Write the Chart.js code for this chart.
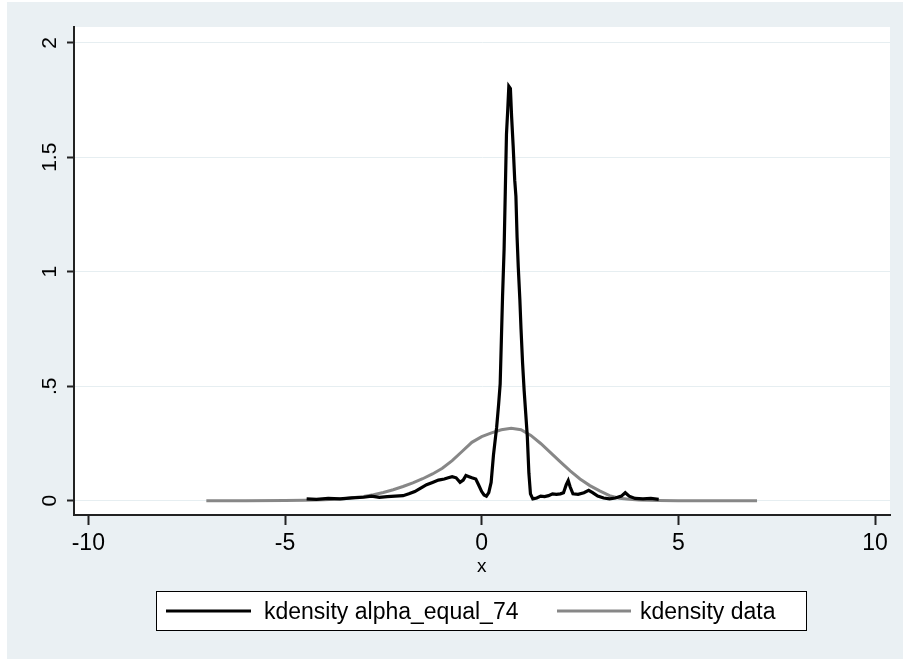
<!DOCTYPE html>
<html>
<head>
<meta charset="utf-8">
<script src="https://cdn.jsdelivr.net/npm/chart.js@4.4.1/dist/chart.umd.min.js"></script>
<style>
html,body{margin:0;padding:0;background:#ffffff;}
canvas{display:block;}
</style>
</head>
<body>
<canvas id="c" width="905" height="662"></canvas>
<script>
// ---- data ----
const seriesLabels = ['kdensity alpha_equal_74', 'kdensity data'];
const xTitle = 'x';
const xTicks = [-10, -5, 0, 5, 10];
const xTickLabels = ['-10', '-5', '0', '5', '10'];
const yTicks = [0, 0.5, 1, 1.5, 2];
const yTickLabels = ['0', '.5', '1', '1.5', '2'];

const alphaX = [-4.45,-4.2,-3.9,-3.6,-3.3,-3.0,-2.8,-2.6,-2.4,-2.2,-2.0,-1.85,-1.7,-1.55,-1.4,-1.25,-1.1,-0.95,-0.85,-0.75,-0.65,-0.55,-0.47,-0.4,-0.32,-0.25,-0.15,-0.08,0.0,0.06,0.12,0.18,0.24,0.3,0.38,0.43,0.47,0.5,0.53,0.57,0.60,0.63,0.66,0.69,0.73,0.76,0.8,0.84,0.87,0.9,0.93,0.97,1.0,1.04,1.08,1.12,1.16,1.2,1.24,1.3,1.4,1.5,1.6,1.7,1.8,1.9,2.0,2.08,2.15,2.2,2.25,2.32,2.45,2.6,2.72,2.82,2.95,3.1,3.25,3.4,3.55,3.65,3.75,3.9,4.1,4.3,4.5];
const alphaY = [0.008,0.006,0.01,0.008,0.012,0.015,0.02,0.015,0.018,0.02,0.022,0.03,0.04,0.055,0.07,0.08,0.09,0.095,0.1,0.105,0.1,0.08,0.09,0.11,0.105,0.1,0.095,0.07,0.04,0.025,0.02,0.035,0.08,0.2,0.32,0.42,0.51,0.7,0.89,1.1,1.35,1.6,1.7,1.81,1.8,1.68,1.55,1.4,1.33,1.15,1.02,0.88,0.75,0.6,0.48,0.38,0.28,0.12,0.03,0.008,0.012,0.02,0.018,0.022,0.03,0.028,0.03,0.035,0.07,0.088,0.06,0.03,0.028,0.035,0.045,0.035,0.02,0.012,0.008,0.012,0.02,0.035,0.02,0.01,0.008,0.01,0.006];

const dataX = [-7,-6,-5,-4.5,-4,-3.5,-3,-2.75,-2.5,-2.25,-2,-1.75,-1.5,-1.25,-1,-0.75,-0.5,-0.25,0,0.25,0.5,0.75,1,1.25,1.5,1.75,2,2.25,2.5,2.75,3,3.25,3.5,3.75,4,4.5,5,6,7];
const dataY = [0,0,0.001,0.002,0.004,0.009,0.018,0.026,0.036,0.048,0.062,0.078,0.096,0.117,0.142,0.175,0.215,0.255,0.28,0.296,0.31,0.316,0.31,0.285,0.25,0.21,0.17,0.13,0.095,0.066,0.043,0.022,0.011,0.006,0.003,0.001,0,0,0];

const FONT = "'Liberation Sans', Arial, sans-serif";

const toPts = (xs, ys) => xs.map((x, i) => ({x: x, y: ys[i]}));

const bgPlugin = {
  id: 'bg',
  beforeDraw(chart) {
    const ctx = chart.ctx, a = chart.chartArea;
    ctx.save();
    ctx.fillStyle = '#ffffff';
    ctx.fillRect(0, 0, chart.width, chart.height);
    ctx.fillStyle = '#eaf0f3';
    ctx.fillRect(7, 2, chart.width - 9, chart.height - 5);
    ctx.fillStyle = '#ffffff';
    ctx.fillRect(a.left, a.top, a.right - a.left, a.bottom - a.top);
    ctx.restore();
  },
  afterDraw(chart) {
    const ctx = chart.ctx;
    const ys = chart.scales.y, xs = chart.scales.x;
    ctx.save();
    // rotated y tick labels
    ctx.fillStyle = '#000';
    ctx.font = '21px ' + FONT;
    ctx.textAlign = 'center';
    ctx.textBaseline = 'alphabetic';
    yTicks.forEach((v, i) => {
      const py = ys.getPixelForValue(v);
      ctx.save();
      ctx.translate(56, py);
      ctx.rotate(-Math.PI / 2);
      ctx.fillText(yTickLabels[i], 0, 0);
      ctx.restore();
    });
    // x title
    ctx.font = '19px ' + FONT;
    ctx.fillText(xTitle, xs.getPixelForValue(0), 572);
    // legend
    const lx = 156.5, ly = 591.5, lw = 650, lh = 39;
    ctx.fillStyle = '#ffffff';
    ctx.fillRect(lx, ly, lw, lh);
    ctx.strokeStyle = '#000';
    ctx.lineWidth = 1;
    ctx.strokeRect(lx, ly, lw, lh);
    const ds = chart.data.datasets;
    const keys = [{x1: 166, x2: 251, tx: 264}, {x1: 557, x2: 631, tx: 640}];
    ctx.font = '23px ' + FONT;
    ctx.textAlign = 'left';
    keys.forEach((k, i) => {
      ctx.strokeStyle = ds[i].borderColor;
      ctx.lineWidth = 3;
      ctx.beginPath();
      ctx.moveTo(k.x1, 611);
      ctx.lineTo(k.x2, 611);
      ctx.stroke();
      ctx.fillStyle = '#000';
      ctx.fillText(ds[i].label, k.tx, 619);
    });
    ctx.restore();
  }
};

new Chart(document.getElementById('c'), {
  type: 'scatter',
  data: {
    datasets: [
      {label: seriesLabels[0], data: toPts(alphaX, alphaY), showLine: true, borderColor: '#000000', borderWidth: 3.2, pointRadius: 0, tension: 0, borderJoinStyle: 'miter'},
      {label: seriesLabels[1], data: toPts(dataX, dataY), showLine: true, borderColor: '#878787', borderWidth: 3, pointRadius: 0, tension: 0}
    ]
  },
  options: {
    responsive: false,
    devicePixelRatio: 1,
    animation: false,
    layout: {padding: {left: 34, right: 15, top: 27, bottom: 107}},
    plugins: {legend: {display: false}, tooltip: {enabled: false}},
    scales: {
      x: {
        type: 'linear', position: 'bottom',
        min: -10.364, max: 10.38,
        afterBuildTicks: s => { s.ticks = xTicks.map(v => ({value: v})); },
        afterFit: s => { s.height = 40; },
        grid: {drawOnChartArea: false, drawTicks: true, tickLength: 10, tickColor: '#222', tickWidth: 2},
        border: {display: true, color: '#222', width: 2},
        ticks: {
          font: {family: FONT, size: 23}, color: '#000', padding: 5, maxRotation: 0,
          callback: (v) => { const i = xTicks.indexOf(v); return i >= 0 ? xTickLabels[i] : ''; }
        }
      },
      y: {
        type: 'linear', position: 'left',
        min: -0.0624, max: 2.069,
        afterBuildTicks: s => { s.ticks = yTicks.map(v => ({value: v})); },
        afterFit: s => { s.width = 40; },
        grid: {drawOnChartArea: true, color: '#e6eef1', lineWidth: 1, drawTicks: true, tickLength: 7, tickColor: '#222', tickWidth: 2},
        border: {display: true, color: '#222', width: 2},
        ticks: {display: false}
      }
    }
  },
  plugins: [bgPlugin]
});
</script>
</body>
</html>
